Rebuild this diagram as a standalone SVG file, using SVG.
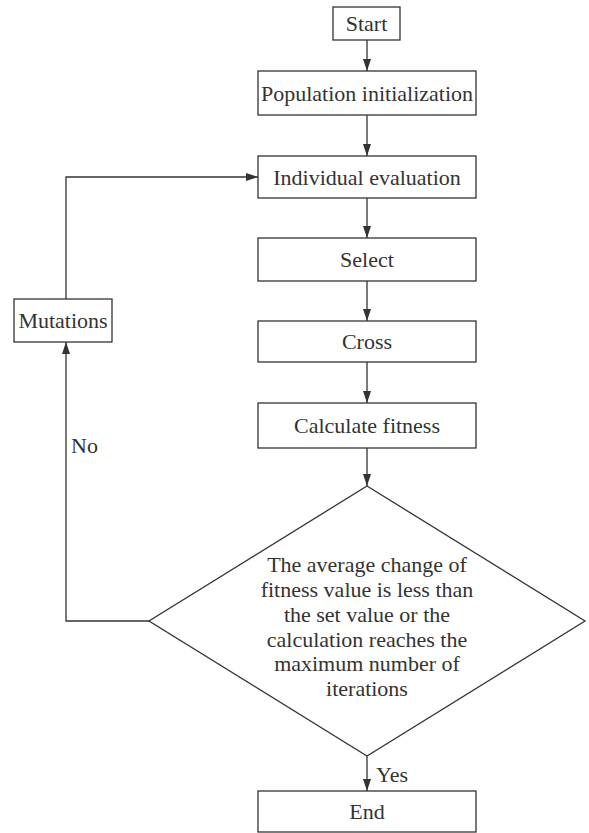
<svg xmlns="http://www.w3.org/2000/svg" width="589" height="833" viewBox="0 0 589 833">
<style>
  .box { fill: #ffffff; stroke: #333333; stroke-width: 1.3; }
  .lbl { font-family: "Liberation Serif", "Times New Roman", serif; font-size: 22px; fill: #333333; text-anchor: middle; }
  .side { font-family: "Liberation Serif", "Times New Roman", serif; font-size: 22px; fill: #333333; }
  .edge { fill: none; stroke: #333333; stroke-width: 1.3; }
</style>
<defs>
  <marker id="arrow" viewBox="0 0 12 8" refX="12" refY="4" markerWidth="12" markerHeight="8" markerUnits="userSpaceOnUse" orient="auto">
    <path d="M0,0 L12,4 L0,8 Z" fill="#333333"/>
  </marker>
</defs>
<rect width="589" height="833" fill="#ffffff"/>
<g id="connectors">
  <line class="edge" x1="367" y1="40" x2="367" y2="71" marker-end="url(#arrow)"/>
  <line class="edge" x1="367" y1="115" x2="367" y2="156" marker-end="url(#arrow)"/>
  <line class="edge" x1="367" y1="198" x2="367" y2="238" marker-end="url(#arrow)"/>
  <line class="edge" x1="367" y1="281" x2="367" y2="321" marker-end="url(#arrow)"/>
  <line class="edge" x1="367" y1="362" x2="367" y2="403" marker-end="url(#arrow)"/>
  <line class="edge" x1="367" y1="448" x2="367" y2="486" marker-end="url(#arrow)"/>
  <line class="edge" x1="367" y1="756" x2="367" y2="791" marker-end="url(#arrow)"/>
  <polyline class="edge" points="149,621 66,621 66,342" marker-end="url(#arrow)"/>
  <polyline class="edge" points="66,299 66,177 258,177" marker-end="url(#arrow)"/>
  <text class="side" x="376" y="782">Yes</text>
  <text class="side" x="71" y="453">No</text>
</g>
<g id="start">
  <rect class="box" x="333" y="7" width="67" height="33"/>
  <text class="lbl" x="366.5" y="31">Start</text>
</g>
<g id="population">
  <rect class="box" x="258" y="71" width="218" height="44"/>
  <text class="lbl" x="367" y="100.5">Population initialization</text>
</g>
<g id="individual">
  <rect class="box" x="258" y="156" width="218" height="42"/>
  <text class="lbl" x="367" y="184.5">Individual evaluation</text>
</g>
<g id="select">
  <rect class="box" x="258" y="238" width="218" height="43"/>
  <text class="lbl" x="367" y="267">Select</text>
</g>
<g id="cross">
  <rect class="box" x="258" y="321" width="218" height="41"/>
  <text class="lbl" x="367" y="349">Cross</text>
</g>
<g id="fitness">
  <rect class="box" x="258" y="403" width="218" height="45"/>
  <text class="lbl" x="367" y="433">Calculate fitness</text>
</g>
<g id="decision">
  <polygon class="box" points="367,486 585,621 367,756 149,621"/>
  <text class="lbl" x="367" y="572">The average change of</text>
  <text class="lbl" x="367" y="597">fitness value is less than</text>
  <text class="lbl" x="367" y="622">the set value or the</text>
  <text class="lbl" x="367" y="647">calculation reaches the</text>
  <text class="lbl" x="367" y="671">maximum number of</text>
  <text class="lbl" x="367" y="696">iterations</text>
</g>
<g id="mutations">
  <rect class="box" x="14" y="299" width="98" height="43"/>
  <text class="lbl" x="63" y="328">Mutations</text>
</g>
<g id="end">
  <rect class="box" x="258" y="791" width="218" height="41"/>
  <text class="lbl" x="367" y="819">End</text>
</g>
</svg>
